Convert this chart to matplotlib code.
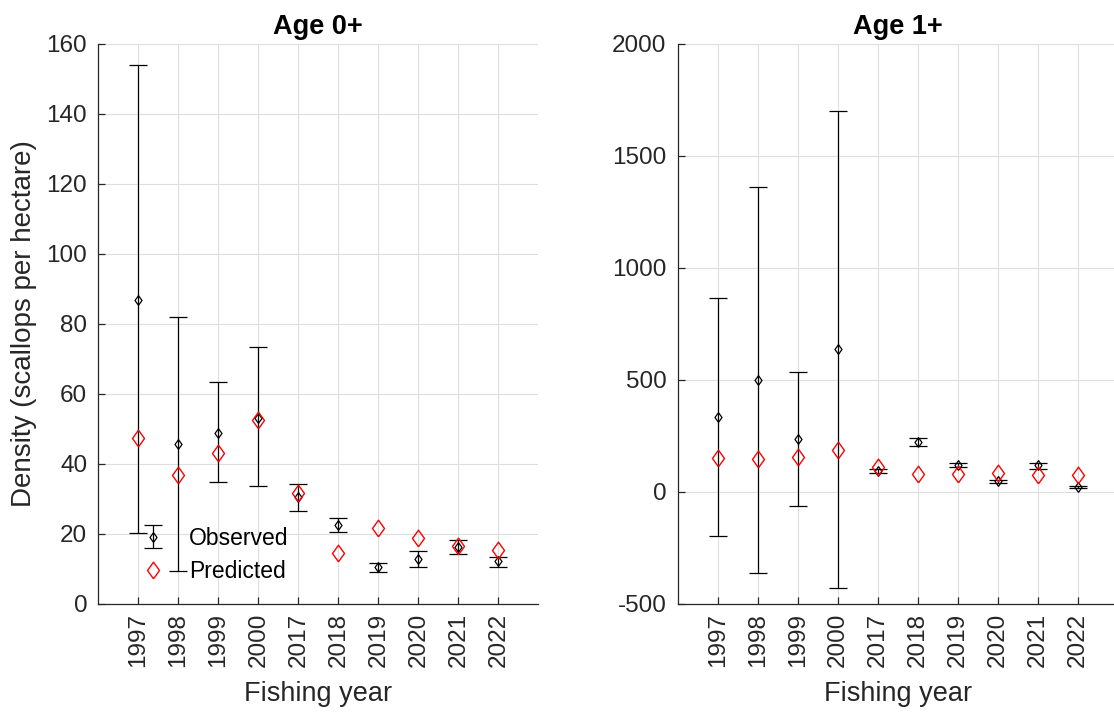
import numpy as np
import matplotlib
matplotlib.use('Agg')
import matplotlib.pyplot as plt

plt.rcParams['font.family'] = ['Liberation Sans', 'DejaVu Sans']
plt.rcParams['axes.unicode_minus'] = False

years = ['1997', '1998', '1999', '2000', '2017', '2018', '2019', '2020', '2021', '2022']

# Age 0+
obs0 = [87.0, 45.7, 49.0, 53.2, 30.7, 22.5, 10.5, 12.9, 16.4, 12.3]
lo0 = [20.2, 9.5, 34.9, 33.6, 26.6, 20.5, 9.2, 10.7, 14.3, 10.7]
hi0 = [154.0, 81.9, 63.3, 73.3, 34.3, 24.5, 11.8, 15.1, 18.3, 13.5]
pred0 = [47.4, 36.8, 43.1, 52.5, 31.6, 14.7, 21.7, 19.0, 16.7, 15.5]

# Age 1+
obs1 = [333, 502, 238, 640, 92, 223, 119, 47, 119, 23]
lo1 = [-196, -360, -62, -427, 87, 207, 110, 40, 104, 20]
hi1 = [864, 1360, 537, 1700, 104, 241, 129, 55, 128, 29]
pred1 = [153, 147, 157, 186, 111, 81, 81, 87, 74, 74]

TXT = '#262626'
GRID = '#dedede'
dia = [(0, -1), (0.72, 0), (0, 1), (-0.72, 0), (0, -1)]

fig = plt.figure(figsize=(11.14, 7.13), dpi=100)
W, H = 1114, 713
ax0 = fig.add_axes([98.3 / W, (H - 604) / H, 440 / W, 560 / H])
ax1 = fig.add_axes([677.7 / W, (H - 604) / H, 440 / W, 560 / H])


def draw(ax, obs, lo, hi, pred, title, ylim, yticks):
    x = np.arange(1, len(years) + 1)
    obs = np.array(obs, float)
    err = [obs - np.array(lo), np.array(hi) - obs]
    eb = ax.errorbar(x, obs, yerr=err, ls='none', marker=dia, ms=7, mfc='none',
                     mec='k', mew=0.9, ecolor='k', elinewidth=0.9, capsize=6.5,
                     capthick=0.9, zorder=3)
    pr, = ax.plot(x, pred, ls='none', marker=dia, ms=12, mfc='none', mec='r',
                  mew=1.0, zorder=4)
    ax.set_xlim(0, 11)
    ax.set_ylim(*ylim)
    ax.set_xticks(x)
    ax.set_xticklabels(years, rotation=90)
    ax.set_yticks(yticks)
    ax.grid(True, color=GRID, lw=0.8)
    ax.set_axisbelow(True)
    for s in ['top', 'right']:
        ax.spines[s].set_visible(False)
    for s in ['left', 'bottom']:
        ax.spines[s].set_color(TXT)
        ax.spines[s].set_linewidth(0.9)
    ax.tick_params(direction='in', length=5, width=0.9, color=TXT,
                   labelcolor=TXT, labelsize=17.5)
    ax.tick_params(axis='y', pad=8)
    ax.tick_params(axis='x', pad=6.5)
    ax.set_title(title, fontsize=19.5, fontweight='bold', color='k', pad=7)
    ax.set_xlabel('Fishing year', fontsize=19.5, color=TXT, labelpad=10)
    return eb, pr


eb0, pr0 = draw(ax0, obs0, lo0, hi0, pred0, 'Age 0+', (0, 160), np.arange(0, 161, 20))
draw(ax1, obs1, lo1, hi1, pred1, 'Age 1+', (-500, 2000), np.arange(-500, 2001, 500))

ax0.set_ylabel('Density (scallops per hectare)', fontsize=20, color=TXT, labelpad=7)

leg = ax0.legend([eb0, pr0], ['Observed', 'Predicted'], loc='lower left',
                 bbox_to_anchor=(0.035, 0.0), frameon=False, fontsize=16.5,
                 handlelength=1.6, handletextpad=0.77, labelspacing=0.47,
                 numpoints=1)
for t in leg.get_texts():
    t.set_color('k')

fig.savefig('out.png', dpi=100, facecolor='white')
